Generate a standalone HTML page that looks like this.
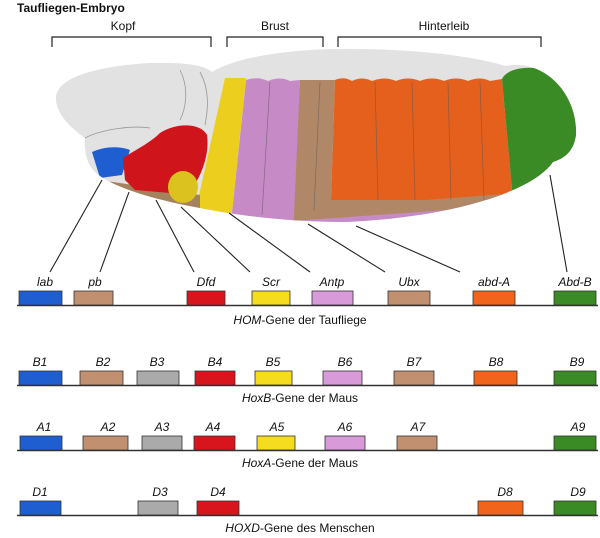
<!DOCTYPE html>
<html><head><meta charset="utf-8"><style>
html,body{margin:0;padding:0;background:#fff}
svg{display:block}
text{font-family:"Liberation Sans",Arial,sans-serif;fill:#111}
.l{font-style:italic;font-size:12px}
.c{font-size:12px}
</style></head><body>
<svg width="600" height="538" viewBox="0 0 600 538" xmlns="http://www.w3.org/2000/svg">
<defs>
<clipPath id="body"><path d="M56,97 C58,76 100,66 150,63 C190,62 205,66 212,72 C240,55 300,48 360,49 C430,50 480,58 505,66 C545,58 578,95 576,135 C574,150 566,158 553,162 C530,195 440,218 346,222 C290,222 240,216 200,208 C150,199 110,186 95,172 C86,163 84,150 85,138 C66,125 55,110 56,97 Z"/></clipPath>
</defs>
<text x="17" y="12" style="font-weight:bold;font-size:12px">Taufliegen-Embryo</text>
<text class="c" x="123" y="30" text-anchor="middle">Kopf</text>
<text class="c" x="275" y="30" text-anchor="middle">Brust</text>
<text class="c" x="444" y="30" text-anchor="middle">Hinterleib</text>
<g stroke="#222" stroke-width="1.2" fill="none">
<path d="M52,47 V37 H211 V47"/>
<path d="M227,47 V37 H323 V47"/>
<path d="M338,47 V37 H541 V47"/>
</g>
<g clip-path="url(#body)">
<rect x="0" y="0" width="600" height="260" fill="#e2e2e2"/>
<path d="M300,80 L335,80 L331,200 L560,190 L560,215 L292,215 Z" fill="#b08868"/>
<path d="M335,80 Q344,76 352,81 Q362,76 372,81 Q384,76 396,81 Q408,76 420,81 Q432,76 444,81 Q456,76 468,81 Q480,76 490,81 L502,79 L513,200 L331,200 Z" fill="#e5601c"/>
<path d="M502,79 C510,60 580,60 590,120 L590,200 L513,200 Z" fill="#3a8a26"/>
<path d="M513,198 L590,150 L590,260 L292,260 L292,212 L540,200 Z" fill="#c68ac6"/>
<path d="M292,210 L560,190 L560,202 L292,221 Z" fill="#b08868"/>
<path d="M246,80 Q258,76 268,81 Q280,76 290,81 L300,80 L292,260 L227,260 Z" fill="#c68ac6"/>
<path d="M225,78 L246,78 L227,260 L197,260 L198,200 Z" fill="#eccf1e"/>
<path d="M100,180 L200,195 L200,230 L100,230 Z" fill="#a4825e"/>
<path d="M92,152 C105,146 120,146 130,150 L122,175 L100,178 Z" fill="#1e5ed0"/>
<path d="M123,158 C135,150 150,143 160,133 C175,123 200,122 207,135 C210,155 200,180 190,190 L170,193 L135,190 L125,180 Z" fill="#d0141c"/>
<ellipse cx="183" cy="187" rx="15" ry="16" fill="#dcc21e"/>
</g>
<g stroke="#777" stroke-width="0.8" fill="none" opacity="0.7">
<path d="M85,138 C100,130 130,125 150,128 M180,70 C190,90 185,110 180,120 M200,72 C210,90 208,110 205,125"/>
</g>
<g stroke="#555" stroke-width="0.7" fill="none" opacity="0.6">
<path d="M375,82 L378,200 M412,82 L415,200 M448,82 L451,200 M480,82 L484,200 M270,82 L262,215 M320,82 L314,210"/>
</g>
<g stroke="#222" stroke-width="1.1">
<line x1="102" y1="180" x2="50" y2="272"/>
<line x1="129" y1="192" x2="100" y2="272"/>
<line x1="156" y1="200" x2="194" y2="272"/>
<line x1="181" y1="207" x2="250" y2="272"/>
<line x1="229" y1="213" x2="310" y2="272"/>
<line x1="308" y1="224" x2="385" y2="272"/>
<line x1="356" y1="226" x2="460" y2="272"/>
<line x1="550" y1="175" x2="567" y2="272"/>
</g>
<!-- Row 1 -->
<g stroke="#333" stroke-width="0.8">
<line x1="17" y1="305.5" x2="598" y2="305.5" stroke-width="1.5"/>
<rect x="19" y="291" width="43" height="14" fill="#1e5ed0"/>
<rect x="74" y="291" width="39" height="14" fill="#c09070"/>
<rect x="187" y="291" width="38" height="14" fill="#d8141c"/>
<rect x="252" y="291" width="38" height="14" fill="#f5dc1e"/>
<rect x="312" y="291" width="41" height="14" fill="#d89ad8"/>
<rect x="388" y="291" width="42" height="14" fill="#c09070"/>
<rect x="473" y="291" width="42" height="14" fill="#f0641c"/>
<rect x="554" y="291" width="42" height="14" fill="#3a8a26"/>
</g>
<text class="l" x="45" y="286" text-anchor="middle">lab</text>
<text class="l" x="95" y="286" text-anchor="middle">pb</text>
<text class="l" x="206" y="286" text-anchor="middle">Dfd</text>
<text class="l" x="271" y="286" text-anchor="middle">Scr</text>
<text class="l" x="332" y="286" text-anchor="middle">Antp</text>
<text class="l" x="409" y="286" text-anchor="middle">Ubx</text>
<text class="l" x="494" y="286" text-anchor="middle">abd-A</text>
<text class="l" x="575" y="286" text-anchor="middle">Abd-B</text>
<text class="c" x="300" y="324" text-anchor="middle"><tspan font-style="italic">HOM</tspan>-Gene der Taufliege</text>
<!-- Row 2 -->
<g stroke="#333" stroke-width="0.8">
<line x1="17" y1="385.5" x2="598" y2="385.5" stroke-width="1.5"/>
<rect x="19" y="371" width="43" height="14" fill="#1e5ed0"/>
<rect x="80" y="371" width="43" height="14" fill="#c09070"/>
<rect x="137" y="371" width="42" height="14" fill="#aaaaaa"/>
<rect x="195" y="371" width="40" height="14" fill="#d8141c"/>
<rect x="255" y="371" width="37" height="14" fill="#f5dc1e"/>
<rect x="323" y="371" width="39" height="14" fill="#d89ad8"/>
<rect x="394" y="371" width="40" height="14" fill="#c09070"/>
<rect x="474" y="371" width="43" height="14" fill="#f0641c"/>
<rect x="554" y="371" width="42" height="14" fill="#3a8a26"/>
</g>
<text class="l" x="40" y="366" text-anchor="middle">B1</text>
<text class="l" x="103" y="366" text-anchor="middle">B2</text>
<text class="l" x="157" y="366" text-anchor="middle">B3</text>
<text class="l" x="215" y="366" text-anchor="middle">B4</text>
<text class="l" x="273" y="366" text-anchor="middle">B5</text>
<text class="l" x="345" y="366" text-anchor="middle">B6</text>
<text class="l" x="414" y="366" text-anchor="middle">B7</text>
<text class="l" x="496" y="366" text-anchor="middle">B8</text>
<text class="l" x="577" y="366" text-anchor="middle">B9</text>
<text class="c" x="300" y="402" text-anchor="middle"><tspan font-style="italic">HoxB</tspan>-Gene der Maus</text>
<!-- Row 3 -->
<g stroke="#333" stroke-width="0.8">
<line x1="17" y1="450.5" x2="598" y2="450.5" stroke-width="1.5"/>
<rect x="20" y="436" width="42" height="14" fill="#1e5ed0"/>
<rect x="83" y="436" width="45" height="14" fill="#c09070"/>
<rect x="142" y="436" width="40" height="14" fill="#aaaaaa"/>
<rect x="194" y="436" width="41" height="14" fill="#d8141c"/>
<rect x="257" y="436" width="38" height="14" fill="#f5dc1e"/>
<rect x="325" y="436" width="40" height="14" fill="#d89ad8"/>
<rect x="397" y="436" width="40" height="14" fill="#c09070"/>
<rect x="554" y="436" width="42" height="14" fill="#3a8a26"/>
</g>
<text class="l" x="44" y="431" text-anchor="middle">A1</text>
<text class="l" x="108" y="431" text-anchor="middle">A2</text>
<text class="l" x="162" y="431" text-anchor="middle">A3</text>
<text class="l" x="213" y="431" text-anchor="middle">A4</text>
<text class="l" x="277" y="431" text-anchor="middle">A5</text>
<text class="l" x="345" y="431" text-anchor="middle">A6</text>
<text class="l" x="418" y="431" text-anchor="middle">A7</text>
<text class="l" x="578" y="431" text-anchor="middle">A9</text>
<text class="c" x="300" y="467" text-anchor="middle"><tspan font-style="italic">HoxA</tspan>-Gene der Maus</text>
<!-- Row 4 -->
<g stroke="#333" stroke-width="0.8">
<line x1="17" y1="515.5" x2="598" y2="515.5" stroke-width="1.5"/>
<rect x="20" y="501" width="41" height="14" fill="#1e5ed0"/>
<rect x="138" y="501" width="40" height="14" fill="#aaaaaa"/>
<rect x="197" y="501" width="42" height="14" fill="#d8141c"/>
<rect x="478" y="501" width="45" height="14" fill="#f0641c"/>
<rect x="554" y="501" width="42" height="14" fill="#3a8a26"/>
</g>
<text class="l" x="40" y="496" text-anchor="middle">D1</text>
<text class="l" x="160" y="496" text-anchor="middle">D3</text>
<text class="l" x="218" y="496" text-anchor="middle">D4</text>
<text class="l" x="505" y="496" text-anchor="middle">D8</text>
<text class="l" x="578" y="496" text-anchor="middle">D9</text>
<text class="c" x="300" y="532" text-anchor="middle"><tspan font-style="italic">HOXD</tspan>-Gene des Menschen</text>
</svg>
</body></html>
